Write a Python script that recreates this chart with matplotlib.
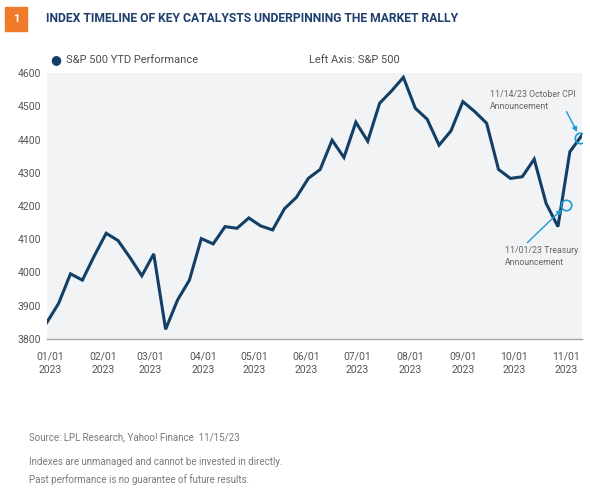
import datetime
import numpy as np
import matplotlib
matplotlib.use('Agg')
import matplotlib.pyplot as plt
import matplotlib.dates as mdates
from matplotlib.patches import Rectangle

plt.rcParams['font.family'] = ['Roboto', 'DejaVu Sans']

# Datos semanales (cierres del viernes)
fecha_inicio = datetime.date(2022, 12, 30)
spx = [3849, 3907, 3996, 3977, 4050, 4118, 4096, 4045, 3990, 4056,
       3829, 3917, 3977, 4102, 4086, 4138, 4133, 4164, 4140, 4128,
       4192, 4226, 4283, 4310, 4398, 4346, 4452, 4395, 4509, 4546,
       4587, 4494, 4461, 4383, 4426, 4514, 4484, 4449, 4310, 4283,
       4288, 4341, 4208, 4138, 4363, 4412]
fechas = [fecha_inicio + datetime.timedelta(days=7 * i) for i in range(len(spx))]

# Eventos marcados: punto, texto y origen de la flecha
evento_fecha = [datetime.date(2023, 11, 1), datetime.date(2023, 11, 9)]
evento_valor = [4203, 4406]
evento_texto = ['11/01/23 Treasury\nAnnouncement', '11/14/23 October CPI\nAnnouncement']
texto_fecha = [datetime.date(2023, 9, 26), datetime.date(2023, 9, 17)]
texto_valor = [4080, 4549]
flecha_fecha = [datetime.date(2023, 10, 9), datetime.date(2023, 11, 1)]
flecha_valor = [4090, 4484]

ticks_x = [datetime.date(2023, m, 1) for m in range(1, 12)]
ticks_y = [3800, 3900, 4000, 4100, 4200, 4300, 4400, 4500, 4600]

azul = '#123f66'
celeste = '#1b9ad6'
gris = '#555555'

fig = plt.figure(figsize=(5.9, 4.91), dpi=100)
ax = fig.add_axes([0.0792, 0.3096, 0.9068, 0.5417])
ax.set_facecolor('#f2f3f5')

ax.plot(fechas, spx, color=azul, linewidth=2.2, solid_joinstyle='miter', zorder=3)
ax.plot(evento_fecha, evento_valor, 'o', markersize=7.5, markerfacecolor='none',
        markeredgecolor=celeste, markeredgewidth=1.2, zorder=4)

# Anotaciones: texto y flecha por separado
for i in range(len(evento_texto)):
    ax.text(texto_fecha[i], texto_valor[i], evento_texto[i], fontsize=6.3,
            color='#666666', ha='left', va='top', linespacing=1.5, zorder=5)
    ax.annotate('', xy=(evento_fecha[i], evento_valor[i]),
                xytext=(flecha_fecha[i], flecha_valor[i]),
                arrowprops=dict(arrowstyle='-|>', color=celeste, lw=1.0,
                                shrinkA=0, shrinkB=4.5, mutation_scale=7))

ax.set_xlim(fechas[0], fechas[-1])
ax.set_ylim(3800, 4600)
ax.set_yticks(ticks_y)
ax.set_xticks(ticks_x)
ax.xaxis.set_major_formatter(mdates.DateFormatter('%m/%d\n%Y'))

for lado in ['top', 'right', 'left']:
    ax.spines[lado].set_visible(False)
ax.spines['bottom'].set_color('#a6a6a6')
ax.spines['bottom'].set_linewidth(1.0)
ax.tick_params(axis='y', length=0, pad=4, labelsize=7.5, labelcolor=gris)
ax.tick_params(axis='x', length=0, pad=9, labelsize=7.5, labelcolor=gris)
for lab in ax.get_xticklabels():
    lab.set_linespacing(1.45)

# Encabezado
fig.patches.append(Rectangle((5 / 590, 1 - 31 / 491), 22 / 590, 24 / 491,
                             transform=fig.transFigure, color='#f07a2a'))
fig.text(16 / 590, 1 - 19 / 491, '1', color='white', fontsize=8, weight='bold',
         ha='center', va='center')
fig.text(46 / 590, 1 - 19 / 491,
         'INDEX TIMELINE OF KEY CATALYSTS UNDERPINNING THE MARKET RALLY',
         color='#1d3f6e', fontsize=8.7, weight='bold', ha='left', va='center')

# Leyenda
fig.text(56 / 590, 1 - 60 / 491, '\u25cf', color=azul, fontsize=9,
         ha='center', va='center', family='DejaVu Sans')
fig.text(66 / 590, 1 - 60 / 491, 'S&P 500 YTD Performance', color='#4d4d4d',
         fontsize=8, ha='left', va='center')
fig.text(309 / 590, 1 - 60 / 491, 'Left Axis: S&P 500', color='#4d4d4d',
         fontsize=8, ha='left', va='center')

# Pie
fig.text(29 / 590, 1 - 437 / 491, 'Source: LPL Research, Yahoo! Finance  11/15/23',
         color='#7a7a7a', fontsize=7, ha='left', va='center')
fig.text(29 / 590, 1 - 462 / 491, 'Indexes are unmanaged and cannot be invested in directly.',
         color='#7a7a7a', fontsize=7, ha='left', va='center')
fig.text(29 / 590, 1 - 480 / 491, 'Past performance is no guarantee of future results.',
         color='#7a7a7a', fontsize=7, ha='left', va='center')

plt.savefig('out.png', dpi=100, facecolor='white')
